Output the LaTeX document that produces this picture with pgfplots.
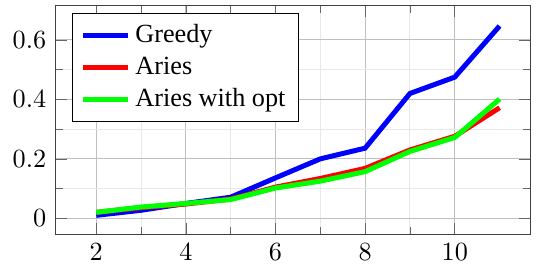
\documentclass[border={1.5pt 0pt 1.9pt 1.9pt}]{standalone}
\usepackage{pgfplots}
\pgfplotsset{compat=1.18}
\usepackage{fontspec}
\setmainfont{Liberation Serif}
\begin{document}
\begin{tikzpicture}
\begin{axis}[
  scale only axis,
  width=181.2pt, height=87.3pt,
  xmin=1.09, xmax=11.69,
  ymin=-0.054, ymax=0.716,
  xtick={2,4,6,8,10},
  ytick={0,0.2,0.4,0.6},
  minor x tick num=1,
  minor y tick num=1,
  grid=both,
  major grid style={gray!50, line width=0.4pt},
  minor grid style={gray!18, line width=0.4pt},
  axis line style={black!75},
  tick style={black!60},
  yticklabel style={/pgf/number format/fixed},
  legend style={at={(0.035,0.967)}, anchor=north west, draw=black},
  legend cell align=left,
  every axis plot/.append style={line width=1.9pt},
]
\addplot[blue] coordinates {(2,0.01)(3,0.027)(4,0.05)(5,0.071)(6,0.136)(7,0.2)(8,0.236)(9,0.42)(10,0.475)(11,0.647)};
\addlegendentry{Greedy}
\addplot[red] coordinates {(2,0.02)(3,0.036)(4,0.048)(5,0.065)(6,0.105)(7,0.134)(8,0.168)(9,0.23)(10,0.276)(11,0.372)};
\addlegendentry{Aries}
\addplot[green] coordinates {(2,0.02)(3,0.038)(4,0.05)(5,0.063)(6,0.102)(7,0.125)(8,0.157)(9,0.225)(10,0.272)(11,0.401)};
\addlegendentry{Aries with opt}
\end{axis}
\end{tikzpicture}
\end{document}
